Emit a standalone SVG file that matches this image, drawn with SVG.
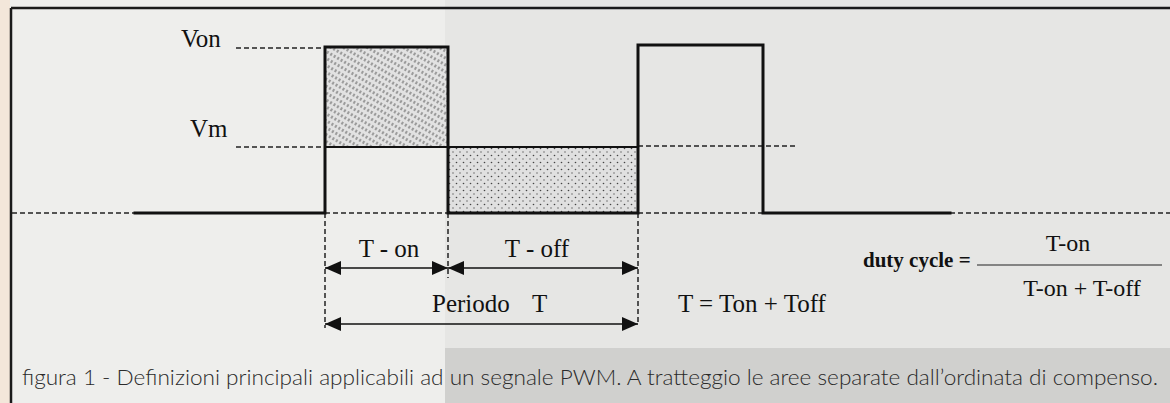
<svg xmlns="http://www.w3.org/2000/svg" width="1170" height="403" viewBox="0 0 1170 403">
<style>
.sig{fill:none;stroke:#111;stroke-width:3;stroke-linejoin:miter;stroke-linecap:square}
.lvl{fill:none;stroke:#111;stroke-width:2}
.dash{fill:none;stroke:#222;stroke-width:1.5;stroke-dasharray:5 3}
.arr{fill:none;stroke:#111;stroke-width:1.5;marker-start:url(#ah);marker-end:url(#ah)}
.lab{font-family:"Liberation Serif","Times New Roman",serif;font-size:25px;fill:#111}
.frac{font-family:"Liberation Serif","Times New Roman",serif;font-size:24px;fill:#111}
.bold{font-family:"Liberation Serif","Times New Roman",serif;font-size:21px;font-weight:bold;fill:#111}
.cap{font-family:Lato,"Open Sans",sans-serif;font-weight:300;font-size:22px;fill:#2a2a2a}
</style>
<defs>
<marker id="ah" markerUnits="userSpaceOnUse" markerWidth="16" markerHeight="14" viewBox="0 0 16 14" refX="16" refY="7" orient="auto-start-reverse">
<path d="M0,0 L16,7 L0,14 z" fill="#111"/>
</marker>
<pattern id="hatch" width="4" height="6" patternUnits="userSpaceOnUse" patternTransform="rotate(30)">
<rect width="4" height="6" fill="#e2e2e2"/>
<line x1="2" y1="0" x2="2" y2="3" stroke="#555" stroke-width="1"/>
</pattern>
<pattern id="dots" width="7" height="7" patternUnits="userSpaceOnUse">
<rect width="7" height="7" fill="#e0e0e0"/>
<circle cx="1.5" cy="1.5" r="0.8" fill="#444"/>
<circle cx="5" cy="5" r="0.7" fill="#555"/>
</pattern>
</defs>

<g id="background">
<rect x="0" y="0" width="1170" height="403" fill="#eeeeec"/>
<rect x="445" y="0" width="725" height="403" fill="#e6e6e4"/>
<rect x="445" y="348" width="725" height="55" fill="#d0d0ce"/>
<rect x="0" y="0" width="10" height="403" fill="#f3e7da"/>
<path d="M11,8 H1170 M11,8 V403" fill="none" stroke="#1a1a1a" stroke-width="2.5"/>
</g>

<g id="areas">
<rect x="326" y="48" width="121" height="98" fill="url(#hatch)"/>
<rect x="449" y="148" width="188" height="64" fill="url(#dots)"/>
</g>

<g id="guides">
<path class="dash" d="M12,213 H135 M325,213 H448 M638,213 H763 M950,213 H1170"/>
<path class="dash" d="M236,48 H325"/>
<path class="dash" d="M236,147 H325 M638,146 H795"/>
<path class="dash" d="M325,213 V328 M448,213 V278 M638,213 V322"/>
</g>

<g id="signal">
<path class="sig" d="M135,213 H325 V47 H448 V213 H638 V45 H763 V213 H950"/>
<path class="lvl" d="M325,147 H448 M448,147 H638"/>
</g>

<g id="connectors">
<path class="arr" d="M325,268 H448"/>
<path class="arr" d="M448,268 H638"/>
<path class="arr" d="M325,324 H638"/>
</g>

<g id="label-von"><text class="lab" x="181" y="47">Von</text></g>
<g id="label-vm"><text class="lab" x="190" y="137">Vm</text></g>
<g id="label-ton"><text class="lab" x="389" y="257" text-anchor="middle">T - on</text></g>
<g id="label-toff"><text class="lab" x="537" y="257" text-anchor="middle">T - off</text></g>
<g id="label-periodo"><text class="lab" x="432" y="312">Periodo <tspan x="532">T</tspan></text></g>
<g id="label-sum"><text class="lab" x="678" y="312">T = Ton + Toff</text></g>
<g id="duty-cycle">
<text class="bold" x="863" y="267">duty cycle =</text>
<line x1="977" y1="265" x2="1162" y2="265" stroke="#222" stroke-width="1"/>
<text class="frac" x="1068" y="251" text-anchor="middle">T-on</text>
<text class="frac" x="1082" y="296" text-anchor="middle">T-on + T-off</text>
</g>
<g id="caption"><text class="cap" x="22" y="385" textLength="1136" lengthAdjust="spacingAndGlyphs">figura 1  - Definizioni principali applicabili ad un segnale PWM. A tratteggio le aree separate dall’ordinata di compenso.</text></g>
</svg>
